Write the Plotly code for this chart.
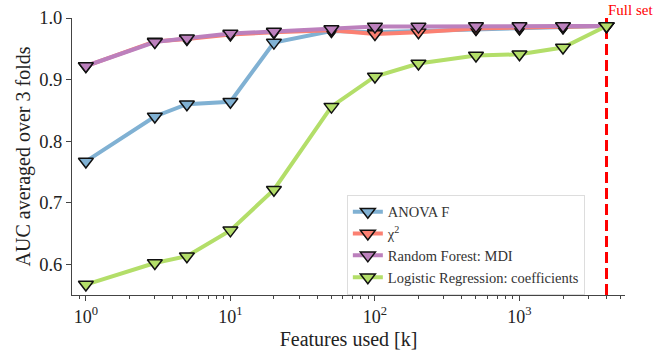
import plotly.graph_objects as go
import numpy as np

k = [1, 3, 5, 10, 20, 50, 100, 200, 500, 1000, 2000, 4000]
anova = [0.767, 0.840, 0.860, 0.864, 0.960, 0.979, 0.977, 0.979, 0.982, 0.983, 0.985, 0.987]
chi2 = [0.922, 0.962, 0.966, 0.973, 0.977, 0.980, 0.974, 0.977, 0.983, 0.984, 0.985, 0.987]
rf = [0.922, 0.961, 0.967, 0.975, 0.978, 0.982, 0.986, 0.986, 0.987, 0.987, 0.987, 0.987]
logreg = [0.567, 0.602, 0.613, 0.655, 0.721, 0.856, 0.905, 0.926, 0.939, 0.941, 0.952, 0.987]
full_set = 4000

names = ["ANOVA F", "χ<sup>2</sup>", "Random Forest: MDI", "Logistic Regression: coefficients"]
colors = ["#80b1d3", "#fb8072", "#bc80bd", "#b3de69"]
series = [anova, chi2, rf, logreg]

FONT = "Times New Roman, Liberation Serif, serif"
fig = go.Figure()
for name, col, vals in zip(names, colors, series):
    fig.add_trace(go.Scatter(
        x=k, y=vals, name=name, mode="lines+markers",
        line=dict(color=col, width=4),
        marker=dict(symbol="triangle-down", size=13, color=col,
                    line=dict(color="#111111", width=1.5)),
        cliponaxis=False,
    ))

fig.add_shape(type="line", xref="x", yref="paper", x0=full_set, x1=full_set,
              y0=0, y1=1, line=dict(color="#ff0000", width=3, dash="11px,5px"),
              layer="below")
fig.add_annotation(x=np.log10(full_set), xref="x", y=1, yref="paper",
                   text="Full set", showarrow=False, xanchor="left", yanchor="bottom",
                   xshift=-1, yshift=-2, font=dict(family=FONT, size=15, color="#ff0000"))

minor_vals = [0.9] + [m * 10 ** d for d in range(0, 4) for m in range(2, 10)]
minor_vals = [v for v in minor_vals if np.log10(v) < 3.73]

fig.update_xaxes(
    type="log", range=[-0.096, 3.73], automargin=False,
    tickvals=[1, 10, 100, 1000],
    ticktext=["10<sup>0</sup>", "10<sup>1</sup>", "10<sup>2</sup>", "10<sup>3</sup>"],
    ticks="outside", ticklen=5, tickcolor="#444", showline=True, linecolor="#444",
    linewidth=1, showgrid=False, zeroline=False,
    minor=dict(tickvals=minor_vals, ticks="outside", ticklen=3, tickcolor="#444", showgrid=False),
    title=dict(text="Features used [k]", font=dict(family=FONT, size=20, color="#222"), standoff=6),
    tickfont=dict(family=FONT, size=18, color="#222"),
)
fig.update_yaxes(
    range=[0.55, 1.0], tickvals=[0.6, 0.7, 0.8, 0.9, 1.0], tickformat=".1f", automargin=False,
    ticks="outside", ticklen=5, tickcolor="#444", showline=True, linecolor="#444",
    linewidth=1, showgrid=False, zeroline=False,
    title=dict(text="AUC averaged over 3 folds", font=dict(family=FONT, size=20, color="#222"), standoff=3),
    tickfont=dict(family=FONT, size=18.5, color="#222"),
)
fig.update_layout(
    width=667, height=350,
    margin=dict(l=72, r=42, t=18, b=55),
    plot_bgcolor="white", paper_bgcolor="white",
    font=dict(family=FONT, color="#222"),
    legend=dict(x=0.497, y=0.362, xanchor="left", yanchor="top",
                bgcolor="rgba(255,255,255,0.8)", bordercolor="#dddddd", borderwidth=1,
                font=dict(family=FONT, size=14.5, color="#333"), tracegroupgap=0,
                itemwidth=30),
)
fig.write_html("out.html")
